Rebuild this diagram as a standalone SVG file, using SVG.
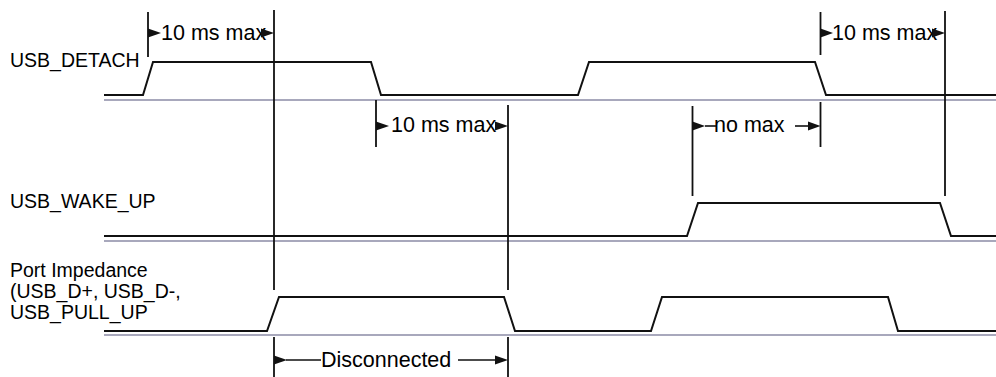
<svg xmlns="http://www.w3.org/2000/svg" width="996" height="377" viewBox="0 0 996 377">
<style>
.lbl{font-family:"Liberation Sans",Arial,sans-serif;font-size:19.5px;fill:#000}
.ann{font-family:"Liberation Sans",Arial,sans-serif;font-size:21.5px;fill:#000}
.sig{fill:none;stroke:#111;stroke-width:2;stroke-linejoin:miter}
.base{fill:none;stroke:#a8a8bc;stroke-width:2}
.vl{fill:none;stroke:#111;stroke-width:1.8}
.al{fill:none;stroke:#111;stroke-width:1.6}
.ah{fill:#111}
</style>
<rect width="996" height="377" fill="#fff"/>
<g id="sig-detach">
<text class="lbl" x="10" y="67">USB_DETACH</text>
<line class="base" x1="104" y1="100" x2="996" y2="100"/>
<path class="sig" d="M104,95 H143 L153,62 H371 L381,95 H578 L589,62 H815 L826,95 H996"/>
</g>
<g id="sig-wakeup">
<text class="lbl" x="10" y="208">USB_WAKE_UP</text>
<line class="base" x1="104" y1="241" x2="996" y2="241"/>
<path class="sig" d="M104,236 H687 L698,203 H940 L951,236 H996"/>
</g>
<g id="sig-port">
<text class="lbl" x="10" y="277">Port Impedance</text>
<text class="lbl" x="10" y="298">(USB_D+, USB_D-,</text>
<text class="lbl" x="10" y="319">USB_PULL_UP</text>
<line class="base" x1="104" y1="335" x2="996" y2="335"/>
<path class="sig" d="M104,331 H267 L279,297 H504 L515,331 H651 L662,297 H888 L898,331 H996"/>
</g>
<g id="connectors">
<line class="vl" x1="274" y1="10" x2="274" y2="290"/>
<line class="vl" x1="274" y1="337" x2="274" y2="377"/>
<line class="vl" x1="508" y1="105" x2="508" y2="290"/>
<line class="vl" x1="508" y1="337" x2="508" y2="377"/>
<line class="vl" x1="692.5" y1="106" x2="692.5" y2="196"/>
<line class="vl" x1="945" y1="11" x2="945" y2="196"/>
<line class="vl" x1="148" y1="12" x2="148" y2="57"/>
<line class="vl" x1="376" y1="100" x2="376" y2="147"/>
<line class="vl" x1="820.5" y1="12" x2="820.5" y2="55"/>
<line class="vl" x1="820.5" y1="102" x2="820.5" y2="147"/>
</g>
<g id="ann-detach-1">
<text class="ann" x="161" y="40">10 ms max</text>
<polygon class="ah" points="148,28.5 148,37.5 161,33"/>
<polygon class="ah" points="261,28.5 261,37.5 274,33"/>
</g>
<g id="ann-detach-2">
<text class="ann" x="391" y="132">10 ms max</text>
<polygon class="ah" points="376,121.5 376,130.5 389,126"/>
<polygon class="ah" points="495,121.5 495,130.5 508,126"/>
</g>
<g id="ann-nomax">
<text class="ann" x="714" y="132">no max</text>
<polygon class="ah" points="692.5,121.5 692.5,130.5 705,126"/>
<line class="al" x1="705" y1="126" x2="716" y2="126"/>
<line class="al" x1="795" y1="126" x2="809" y2="126"/>
<polygon class="ah" points="808,121.5 808,130.5 820.5,126"/>
</g>
<g id="ann-detach-3">
<text class="ann" x="832" y="40">10 ms max</text>
<polygon class="ah" points="820.5,28.5 820.5,37.5 833,33"/>
<polygon class="ah" points="932,28.5 932,37.5 945,33"/>
</g>
<g id="ann-disconnected">
<text class="ann" x="321" y="367">Disconnected</text>
<polygon class="ah" points="274,355.5 274,364.5 287,360"/>
<line class="al" x1="286" y1="360" x2="321" y2="360"/>
<line class="al" x1="458" y1="360" x2="496" y2="360"/>
<polygon class="ah" points="495,355.5 495,364.5 508,360"/>
</g>
</svg>
